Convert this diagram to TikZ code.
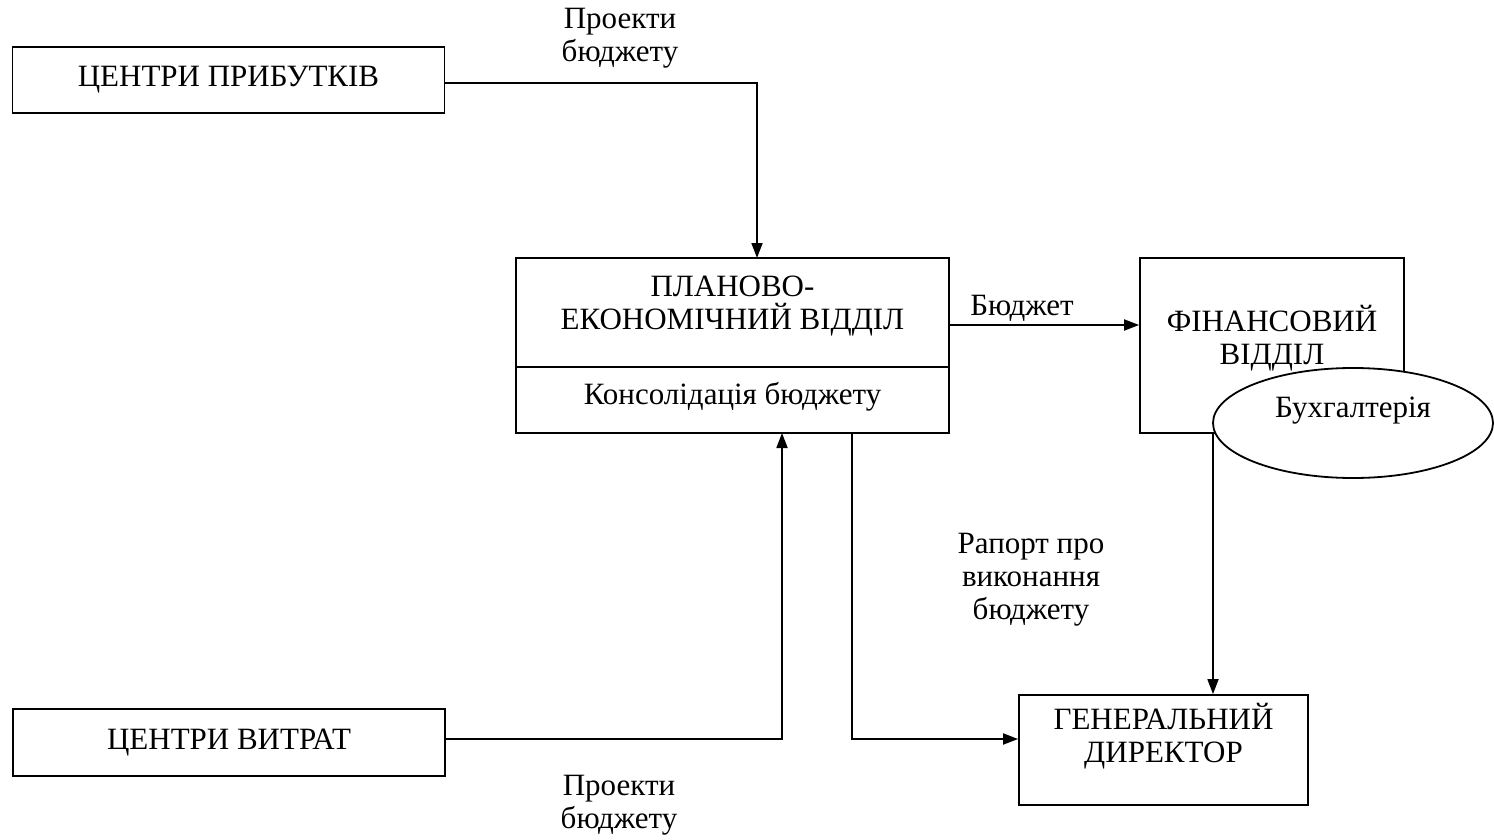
\documentclass[tikz,border=0pt]{standalone}
\usepackage{fontspec}
\setmainfont{Liberation Serif}
\usetikzlibrary{arrows.meta,shapes.geometric}
\begin{document}
\begin{tikzpicture}[x=1pt,y=-1pt,
  box/.style={draw, line width=1.8pt, inner sep=0pt, fill=white},
  txt/.style={inner sep=0pt, align=center, font=\fontsize{31}{33}\selectfont},
  conn/.style={line width=1.8pt},
  arr/.style={line width=1.8pt, -{Triangle[length=15pt,width=11pt]}}]
\useasboundingbox (0,0) rectangle (1494,840);
% boxes
\node[box, minimum width=432pt, minimum height=66pt] (cp) at (228.5,80) {};
\node[txt] (cpt) at (228.5,80) {ЦЕНТРИ ПРИБУТКІВ};
\node[box, minimum width=433pt, minimum height=175pt] (peo) at (732.5,345.5) {};
\draw[conn] (peo.west |- 0,367) -- (peo.east |- 0,367);
\node[txt] (peot) at (732.5,306) {ПЛАНОВО-\\ЕКОНОМІЧНИЙ ВІДДІЛ};
\node[txt] (cons) at (732.5,397) {Консолідація бюджету};
\node[box, minimum width=264pt, minimum height=175pt] (fin) at (1272,345.5) {};
\node[txt] (fint) at (1272,338) {ФІНАНСОВИЙ\\ВІДДІЛ};
\node[box, ellipse, minimum width=280pt, minimum height=110pt] (buh) at (1353,423) {};
\node[txt] (buht) at (1353,411) {Бухгалтерія};
\node[box, minimum width=432pt, minimum height=67pt] (cost) at (229,742.5) {};
\node[txt] (costt) at (229,742.5) {ЦЕНТРИ ВИТРАТ};
\node[box, minimum width=289pt, minimum height=110pt] (gen) at (1163.5,750) {};
\node[txt] (gent) at (1163.5,736) {ГЕНЕРАЛЬНИЙ\\ДИРЕКТОР};
% labels
\node[txt] (l1) at (620,38) {Проекти\\бюджету};
\node[txt] (l2) at (1022,308) {Бюджет};
\node[txt] (l3) at (1031,580) {Рапорт про\\виконання\\бюджету};
\node[txt] (l4) at (619,805) {Проекти\\бюджету};
% connectors
\coordinate (c1) at (757,258);
\draw[arr] (cp.east |- 0,83) -| (c1);
\draw[arr] (peo.east |- 0,325) -- (fin.west |- 0,325);
\coordinate (c2) at (782,433);
\draw[arr] (cost.east |- 0,739) -| (c2);
\coordinate (c3) at (852,433);
\draw[arr] (c3) |- (gen.west |- 0,739);
\coordinate (c4) at (1213,433);
\draw[arr] (c4) -- (gen.north -| c4);
\end{tikzpicture}
\end{document}
